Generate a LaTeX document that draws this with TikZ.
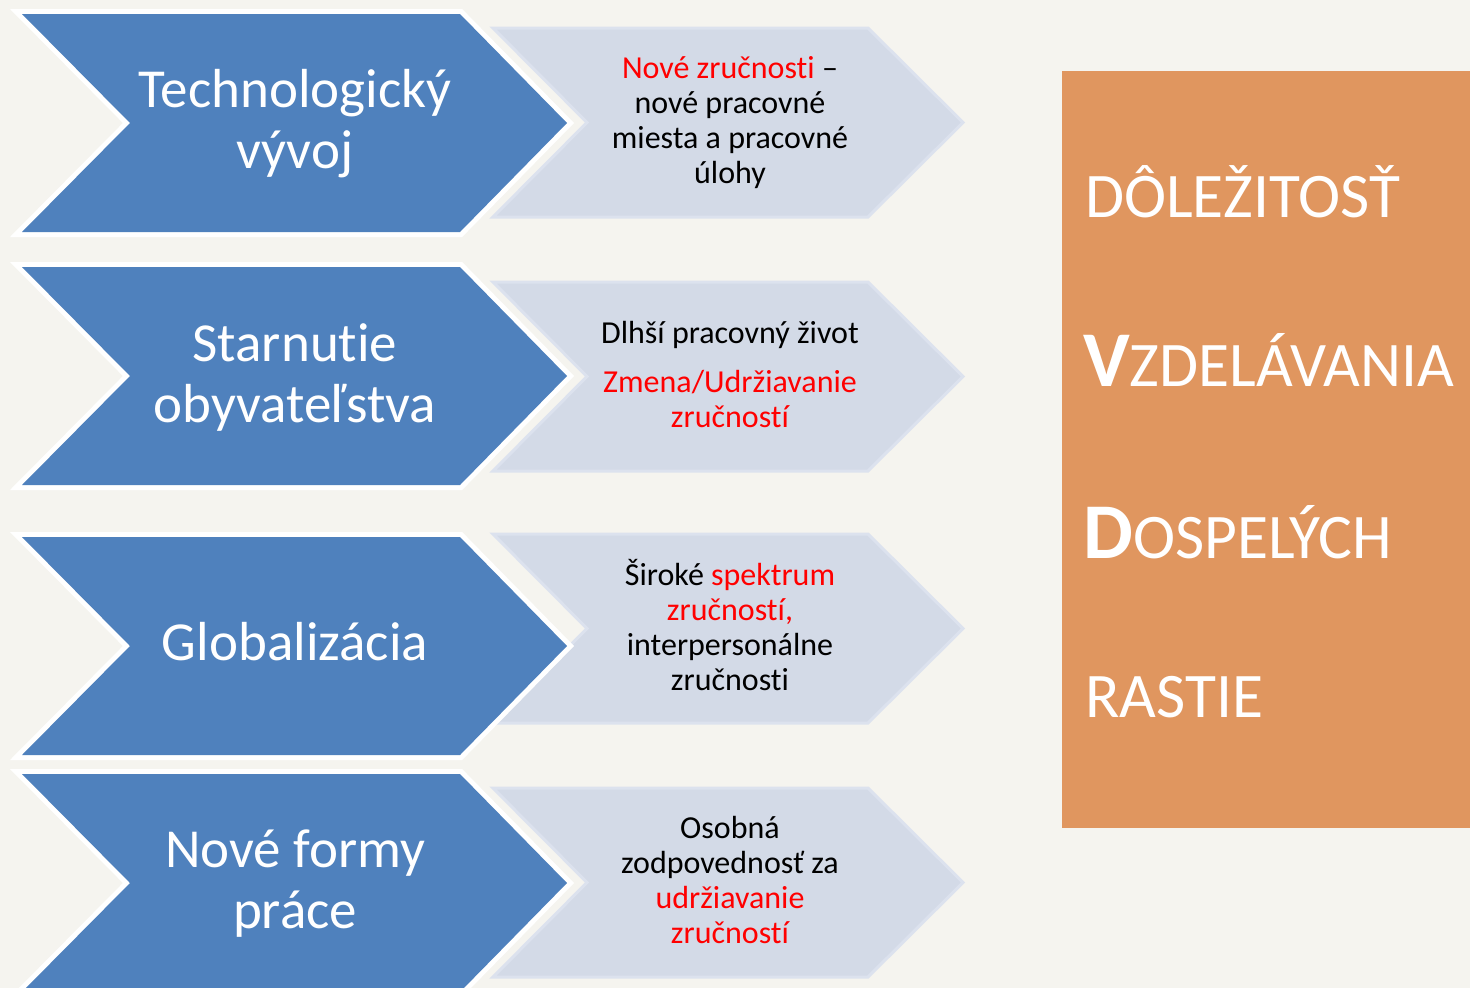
\documentclass[tikz,border=0pt]{standalone}
\usepackage{fontspec}
\setmainfont{Carlito}[Ligatures=NoCommon]
\definecolor{bg}{HTML}{F5F4EF}
\definecolor{chblue}{HTML}{4F81BD}
\definecolor{chgray}{HTML}{D3DAE7}
\definecolor{chgrayedge}{HTML}{DCE2EE}
\definecolor{orng}{HTML}{E0965F}
\definecolor{txtred}{HTML}{FF0000}
\begin{document}
\begin{tikzpicture}[x=1pt,y=-1pt,
  bluechevout/.style={fill=chblue, draw=white, line width=10pt, line join=miter},
  bluechevin/.style={fill=chblue},
  graychev/.style={fill=chgray, draw=chgrayedge, line width=3pt, line join=miter},
  bluetxt/.style={text=white, align=center, inner sep=0pt, anchor=base, font=\fontsize{55}{61}\selectfont},
  graytxt/.style={text=black, align=center, inner sep=0pt, anchor=base, font=\fontsize{32}{35}\selectfont},
  orngtxt/.style={text=white, inner sep=0pt, anchor=base west, font=\fontsize{63.5}{70}\selectfont},
  big/.style={font=\fontsize{79}{80}\selectfont\bfseries}
]
\fill[bg] (0,0) rectangle (1470,988);
\useasboundingbox (0,0) rectangle (1470,988);
% gray chevrons
\foreach \t in {28,282,534,788}{
  \path[graychev] (493,\t) -- (868,\t) -- (963,\t+94.5) -- (868,\t+189) -- (493,\t+189) -- (587,\t+94.5) -- cycle;
}
% blue chevrons
\foreach \t in {14,267,537,774}{
  \path[bluechevout] (22,\t) -- (460,\t) -- (567,\t+109) -- (460,\t+218) -- (22,\t+218) -- (130,\t+109) -- cycle;
  \path[bluechevin] (22,\t) -- (460,\t) -- (567,\t+109) -- (460,\t+218) -- (22,\t+218) -- (130,\t+109) -- cycle;
}
% orange box
\fill[orng] (1062,71) rectangle (1470,828);
% blue texts (positioned at the baseline of the last line)
\node[bluetxt] (b1) at (295,168) {Technologický\\vývoj};
\node[bluetxt] (b2) at (295,422) {Starnutie\\obyvateľstva};
\node[bluetxt] (b3) at (295,660) {Globalizácia};
\node[bluetxt] (b4) at (295,928) {Nové formy\\práce};
% gray texts
\node[graytxt] (g1) at (730,183) {{\color{txtred}Nové zručnosti} –\\nové pracovné\\miesta a pracovné\\úlohy};
\node[graytxt] (g2) at (730,427) {Dlhší pracovný život\\[14pt]{\color{txtred}Zmena/Udržiavanie}\\{\color{txtred}zručností}};
\node[graytxt] (g3) at (730,690) {Široké {\color{txtred}spektrum}\\{\color{txtred}zručností,}\\interpersonálne\\zručnosti};
\node[graytxt] (g4) at (730,943) {Osobná\\zodpovednosť za\\{\color{txtred}udržiavanie}\\{\color{txtred}zručností}};
% orange texts
\node[orngtxt] (o1) at (1085,217) {DÔLEŽITOSŤ};
\node[orngtxt] (o2) at (1083,386) {{\fontsize{79}{80}\selectfont\bfseries V}ZDELÁVANIA};
\node[orngtxt] (o3) at (1083,558) {{\fontsize{79}{80}\selectfont\bfseries D}OSPELÝCH};
\node[orngtxt] (o4) at (1085,717) {RASTIE};
\end{tikzpicture}
\end{document}
